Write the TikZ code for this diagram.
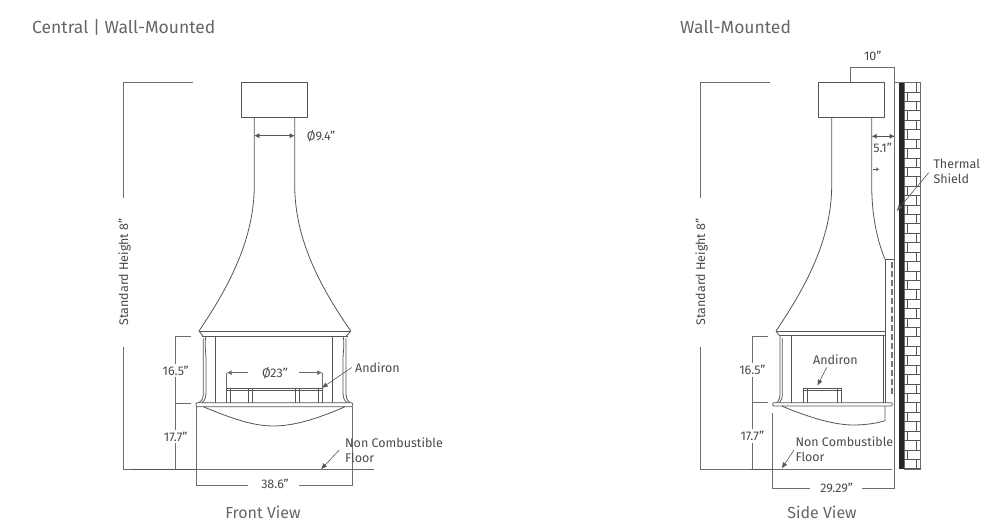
\documentclass[tikz,border=0pt]{standalone}
\usepackage{fontspec}
\setmainfont{Fira Sans}
\usepackage{xcolor}
\usetikzlibrary{arrows.meta, positioning}
\definecolor{linegray}{HTML}{555555}
\definecolor{textgray}{HTML}{4A4A4A}
\definecolor{titlegray}{HTML}{666666}
\tikzset{
    drawing/.style={draw=linegray, line width=0.8pt},
    dimline/.style={draw=linegray!85, line width=0.7pt},
    dimarrow/.style={draw=linegray, line width=0.6pt, {Latex[length=5pt,width=5pt]}-{Latex[length=5pt,width=5pt]}},
    leader/.style={draw=linegray, line width=0.6pt, -{Latex[length=6pt,width=5pt]}},
    label/.style={text=textgray, inner sep=1pt, font=\fontsize{12.5}{15}\selectfont},
    dimlabel/.style={label, fill=white, inner sep=2pt},
    note/.style={label, anchor=west, align=left, inner sep=0pt},
    viewtitle/.style={text=titlegray, inner sep=0pt, font=\fontsize{16}{19}\selectfont},
    sheettitle/.style={text=titlegray, anchor=west, inner sep=0pt, font=\fontsize{17.5}{21}\selectfont}
}

\begin{document}
\begin{tikzpicture}[x=1pt, y=-1pt]
    \useasboundingbox (0,0) rectangle (1000,529);

    % Titles
    \node[sheettitle] (titleleft) at (32,27) {Central | Wall-Mounted};
    \node[sheettitle] (titleright) at (680,27) {Wall-Mounted};
    \node[viewtitle] (frontview) at (263,512) {Front View};
    \node[viewtitle] (sideview) at (822,512) {Side View};

    %%% Front view %%%
    % Flue box and hood
    \draw[drawing] (241.7,82.5) rectangle (307.3,117.3);
    \draw[drawing] (254.3,117.3) -- (254.3,185)
        .. controls (254.3,240) and (228,288) .. (199,331) -- (203,336);
    \draw[drawing] (294.7,117.3) -- (294.7,185)
        .. controls (294.7,240) and (321,288) .. (350.7,331) -- (346.5,336);
    \draw[drawing] (199,331.5) -- (350.7,331.5);
    \draw[drawing] (202,336) -- (347.5,336);

    % Columns
    \draw[drawing] (206,336) .. controls (204,345) and (206,350) .. (206,360) -- (206,392) .. controls (206,398) and (205,400) .. (202,402.7);
    \draw[drawing] (203.3,338) -- (203.3,392) .. controls (203.3,397) and (203,400) .. (199,402.7);
    \draw[drawing] (343,336) .. controls (345,345) and (343,350) .. (343,360) -- (343,392) .. controls (343,398) and (344,400) .. (347,402.7);
    \draw[drawing] (346,338) -- (346,392) .. controls (346,397) and (346.5,400) .. (350,402.7);
    \draw[drawing] (215,336) -- (215,402.7);
    \draw[drawing] (332.7,336) -- (332.7,402.7);

    % Base plate, bowl and floor box
    \draw[drawing, rounded corners=1pt] (196,402.7) rectangle (352.7,406.7);
    \draw[drawing] (203.3,406.7) .. controls (235,420) and (255,426) .. (273.3,426)
        .. controls (292,426) and (315,420) .. (345,406.7);
    \draw[dimline] (196,406.7) -- (196,485) -- (248.3,485);
    \draw[dimline] (352.7,406.7) -- (352.7,485) -- (299.3,485);

    % Andiron
    \draw[drawing] (226.7,388.5) -- (322.3,388.5);
    \draw[drawing] (226.7,390.7) -- (322.3,390.7);
    \foreach \legx in {226.7,248.3,295.7,318.3}
        \draw[drawing] (\legx,402.7) -- (\legx,388.5) -- ++(4,0) -- ++(0,14.2);

    % Floor
    \draw[drawing, line width=1pt] (130.7,469.3) -- (196,469.3);
    \draw[dimline] (196,469.3) -- (374,469.3);

    % Height dimension
    \draw[dimline] (193,82.5) -- (123.3,82.5) -- (123.3,198);
    \draw[dimline] (123.3,347) -- (123.3,469.3) -- (130.7,469.3);
    \node[label, rotate=90] (heightfront) at (124.5,272) {Standard Height 8"};

    % Vertical dimensions
    \draw[dimline] (190.7,336) -- (175,336) -- (175,469.3);
    \draw[dimline] (175,403.3) -- (190.7,403.3);
    \node[dimlabel] (lowerfront) at (175.7,370.7) {16.5"};
    \node[dimlabel] (floorfront) at (175.7,436.7) {17.7"};

    % Flue and andiron dimensions
    \coordinate (flueleft) at (254.3,135.7);
    \coordinate (flueright) at (294.7,135.7);
    \draw[dimarrow] (flueleft) -- (flueright);
    \node[label] (fluefront) at (321,136) {Ø9.4"};
    \node[label] (widthfront) at (275,372.7) {Ø23"};
    \coordinate (andleft) at (226.7,372.7);
    \coordinate (andright) at (322.3,372.7);
    \draw[dimline, -{Latex[length=5pt,width=5pt]}] (248,372.7) -- (andleft);
    \draw[dimline, -{Latex[length=5pt,width=5pt]}] (299.3,372.7) -- (andright);
    \draw[dimline] (andleft) -- (226.7,388.5);
    \draw[dimline] (andright) -- (322.3,388.5);
    \node[label] (depthfront) at (275,484) {38.6"};

    % Notes
    \node[note] (andironfront) at (355,368) {Andiron};
    \coordinate (andironfronttip) at (321.7,388);
    \draw[leader] (351.7,367.5) -- (andironfronttip);
    \node[note] (floorfrontnote) at (345,450) {Non Combustible\\Floor};
    \coordinate (floorfronttip) at (321,469.3);
    \draw[leader] (339.3,450) -- (floorfronttip);

    %%% Side view %%%
    % Flue box and hood
    \draw[drawing] (818.7,82.5) rectangle (884.3,117.3);
    \draw[drawing] (831.7,117.3) -- (831.7,185)
        .. controls (831.7,240) and (805,288) .. (776,331);
    \draw[drawing] (871.7,117.3) -- (871.7,185)
        .. controls (871.7,215) and (877,240) .. (885,259.3);
    \draw[drawing] (885,259.3) -- (894.7,259.3);
    \draw[drawing] (885,259.3) -- (885,402.7);
    \draw[drawing] (883,335.7) -- (883,402.7);
    \draw[drawing] (776,331.5) -- (885,331.5);
    \draw[drawing] (779,335.7) -- (885,335.7);
    \draw[linegray!80, line width=1.2pt, dash pattern=on 6pt off 3pt] (892,262) -- (892,395);

    % Column
    \draw[drawing] (776,331.5) -- (780,336) -- (780,392) .. controls (780,398) and (779.5,400) .. (777,402.7);
    \draw[drawing] (782.3,338) -- (782.3,392) .. controls (782.3,398) and (782,400) .. (779.5,402.7);
    \draw[drawing] (791,335.7) -- (791,402.7);

    % Base plate and bowl
    \draw[drawing, rounded corners=1pt] (772.7,402.7) rectangle (892.3,406);
    \draw[drawing] (781.7,406) .. controls (810,418) and (835,425) .. (853.3,425)
        .. controls (866,425) and (878,423) .. (885,420.7) -- (885,406);

    % Andiron
    \draw[drawing] (803.3,388.5) -- (841.7,388.5);
    \draw[drawing] (803.3,390.5) -- (841.7,390.5);
    \foreach \legx in {803.3,837.7}
        \draw[drawing] (\legx,402.7) -- (\legx,388.5) -- ++(4,0) -- ++(0,14.2);

    % Thermal shield and wall
    \fill[black!85] (899.3,82.5) rectangle (904,469.3);
    \draw[dimline] (894.7,82.5) -- (920.7,82.5);
    \draw[dimline] (904,82.5) rectangle (920.7,469.3);
    \foreach \row [evaluate=\row as \rowy using 82.5+9.42*\row] in {1,...,41}
        \draw[linegray, line width=0.7pt] (904,\rowy) -- (920.7,\rowy);
    \foreach \row [evaluate=\row as \rowy using 82.5+9.42*\row,
                   evaluate=\row as \jointx using {mod(\row,2)==0 ? 916.7 : 907.5}] in {0,...,40}
        \draw[linegray, line width=0.7pt] (\jointx,\rowy) -- (\jointx,\rowy+9.42);

    % Floor and width dimension
    \draw[dimline] (700.3,469.3) -- (891.7,469.3);
    \draw[drawing, line width=1pt] (750,469.3) -- (772.7,469.3);
    \draw[dimline] (772.7,413.3) -- (772.7,488.7) -- (810,488.7);
    \draw[dimline] (850.7,82.5) -- (850.7,67) -- (894.7,67) -- (894.7,488.7) -- (861.7,488.7);

    % Height dimension
    \draw[dimline] (770,82.5) -- (700.3,82.5) -- (700.3,198);
    \draw[dimline] (700.3,347) -- (700.3,469.3);
    \node[label, rotate=90] (heightside) at (701.5,272) {Standard Height 8"};

    % Vertical dimensions
    \draw[dimline] (768,336) -- (752,336) -- (752,469.3);
    \draw[dimline] (752,402.7) -- (768,402.7);
    \node[dimlabel] (lowerside) at (752.3,370) {16.5"};
    \node[dimlabel] (floorside) at (752.3,436) {17.7"};

    % Flue dimensions
    \coordinate (gapleft) at (871.7,136.3);
    \coordinate (gapright) at (894.7,136.3);
    \draw[dimarrow] (gapleft) -- (gapright);
    \node[label] (gapside) at (882.7,148) {5.1"};
    \node[label] (flueside) at (872.7,55.7) {10"};
    \node[label] (widthside) at (836.7,487.7) {29.29"};
    \draw[linegray, line width=0.5pt, -{Stealth[open,length=3pt,width=4pt]}] (872.5,169.3) -- (879,169.3);

    % Notes
    \node[note] (andironside) at (813,360) {Andiron};
    \coordinate (andironsidetip) at (817.3,385.7);
    \draw[leader] (826.7,367.5) -- (andironsidetip);
    \node[note] (floorsidenote) at (795.3,449.5) {Non Combustible\\Floor};
    \coordinate (floorsidetip) at (781.7,468.5);
    \draw[leader] (794,450) -- (floorsidetip);
    \node[note] (shieldnote) at (933.3,171.3) {Thermal\\Shield};
    \coordinate (shieldtip) at (896.7,211);
    \draw[leader] (928.7,172.7) -- (shieldtip);
\end{tikzpicture}
\end{document}
